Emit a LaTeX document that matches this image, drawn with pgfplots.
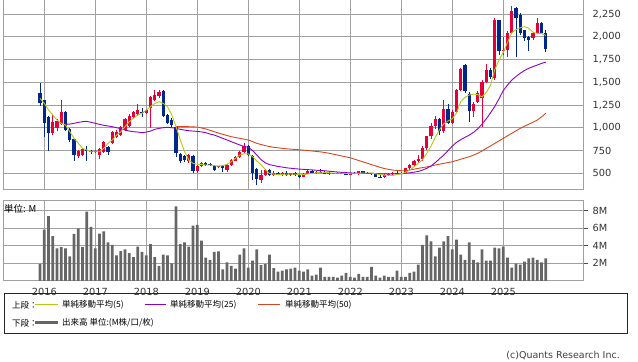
\documentclass[border=0pt]{standalone}
\usepackage{fontspec}
\setmainfont{DejaVu Sans}
\newfontfamily\jp{Noto Sans CJK JP}
\usepackage{pgfplots}
\usepackage{pgfplotstable}
\pgfplotsset{compat=1.18}

\definecolor{upc}{RGB}{230,0,58}
\definecolor{dnc}{RGB}{0,40,140}
\definecolor{ma5}{RGB}{180,200,20}
\definecolor{ma25}{RGB}{140,0,200}
\definecolor{ma50}{RGB}{215,70,30}
\definecolor{volc}{RGB}{102,102,102}
\definecolor{gridc}{RGB}{160,160,160}

\pgfplotstableread{
x o h l c
2 940 1140 920 1065
3 1000 1100 960 1070
4 1040 1305 1030 1175
8 690 760 670 745
9 705 775 690 765
12 730 755 720 745
13 700 780 655 765
14 735 860 725 845
16 830 970 820 955
17 900 975 890 950
18 925 1020 915 1010
19 980 1110 970 1100
20 1015 1150 1010 1130
21 1120 1185 1100 1175
22 1150 1260 1130 1200
24 1160 1210 1150 1195
25 1215 1350 995 1340
26 1300 1415 1290 1365
27 1345 1420 1330 1395
34 630 710 615 700
36 520 590 505 580
37 575 620 565 610
41 565 585 555 575
43 540 600 515 590
44 590 655 585 645
45 640 695 630 683
46 680 745 670 735
47 735 830 725 800
51 430 540 395 480
52 480 550 470 535
54 480 520 470 500
56 485 510 465 505
58 478 505 470 498
61 462 505 458 495
62 495 540 490 530
64 505 525 495 515
67 495 510 485 502
69 494 512 488 505
72 486 508 478 500
74 494 528 485 520
80 458 490 452 480
81 480 500 474 490
82 490 510 484 498
84 494 515 488 506
85 506 560 500 554
86 554 600 540 590
87 590 645 575 635
88 635 700 615 655
89 655 800 640 780
90 780 915 760 905
91 905 1050 880 1020
92 1020 1125 985 1100
94 960 1310 945 1210
96 1055 1200 1040 1170
97 1170 1430 1160 1415
98 1415 1660 1400 1645
101 1180 1280 1120 1265
102 1285 1400 1270 1380
103 1330 1520 1005 1500
104 1505 1700 1490 1630
106 1545 2205 1530 2185
108 1845 2000 1800 1855
109 1855 2060 1780 2045
110 2040 2340 2030 2285
115 1985 2050 1970 2040
116 2040 2205 2030 2155
}\upT

\pgfplotstableread{
x o h l c
-1 1378 1490 1240 1268
0 1300 1310 900 1050
1 1120 1130 740 940
5 1175 1180 960 975
6 990 1000 845 870
7 875 880 635 700
10 760 800 635 750
11 745 760 715 735
15 790 800 700 735
23 1175 1215 1120 1160
28 1405 1410 1120 1135
29 1140 1150 1040 1055
30 1090 1105 995 1030
31 1010 1020 680 720
32 715 720 610 630
33 690 700 620 645
35 690 700 500 520
38 615 625 580 595
39 605 615 580 590
40 580 590 530 540
42 580 590 518 555
48 800 810 690 700
49 690 700 425 500
50 545 555 370 440
53 535 545 465 480
55 500 512 478 485
57 505 525 470 478
59 498 515 475 482
60 482 492 452 462
63 530 535 495 505
65 515 545 500 508
66 508 520 488 495
68 502 508 488 494
70 505 515 492 498
71 498 505 478 486
73 500 510 488 494
75 520 525 498 505
76 505 512 494 500
77 500 505 486 490
78 490 494 455 462
79 462 476 450 458
83 498 522 488 494
93 1100 1110 920 960
95 1210 1260 1040 1055
99 1690 1700 1380 1400
100 1375 1390 1065 1180
105 1640 1660 1540 1560
107 2180 2190 1800 1840
111 2320 2330 1780 2210
112 2240 2260 2020 2040
113 2070 2080 1950 1985
114 2000 2010 1840 1965
117 2155 2160 2030 2040
118 2040 2070 1835 1865
}\dnT

\pgfplotstableread{
x v
-1 1.9
0 5.85
1 7.4
2 5.1
3 3.7
4 3.85
5 3.7
6 2.8
7 5.35
8 6.0
9 3.85
10 7.9
11 6.15
12 3.7
13 5.4
14 5.65
15 4.4
16 4.1
17 2.9
18 3.4
19 3.6
20 3.15
21 2.7
22 3.9
23 3.3
24 2.9
25 4.2
26 2.7
27 1.7
28 3.0
29 2.9
30 2.0
31 8.5
32 4.2
33 4.4
34 3.9
35 6.3
36 6.4
37 4.6
38 2.65
39 2.4
40 3.3
41 3.35
42 1.3
43 2.1
44 1.7
45 1.4
46 3.0
47 3.7
48 1.5
49 2.3
50 3.6
51 1.8
52 1.9
53 3.0
54 1.45
55 1.05
56 1.15
57 1.3
58 1.4
59 1.5
60 1.15
61 1.05
62 1.3
63 0.6
64 0.7
65 1.5
66 0.45
67 0.45
68 0.45
69 0.35
70 0.6
71 0.9
72 0.45
73 0.35
74 0.8
75 0.45
76 0.45
77 1.6
78 0.6
79 0.35
80 0.6
81 0.45
82 0.45
83 1.15
84 0.45
85 0.45
86 0.9
87 1.05
88 1.85
89 4.1
90 5.2
91 4.5
92 2.8
93 3.8
94 4.5
95 5.1
96 3.6
97 4.7
98 3.0
99 2.4
100 4.4
101 2.4
102 2.1
103 3.6
104 2.3
105 2.3
106 3.8
107 3.7
108 3.9
109 2.65
110 1.5
111 1.95
112 1.85
113 2.2
114 2.55
115 2.65
116 2.4
117 2.1
118 2.55
}\volT

\pgfplotsset{
  panel/.style={
    scale only axis, width=580bp,
    xmin=-9.718, xmax=126.75,
    axis line style={draw=gridc, line width=1bp},
    grid=major, major grid style={draw=gridc, line width=1bp},
    xtick={0,12,...,108},
    tick label style={font=\fontsize{9.8bp}{11bp}\selectfont, text=black!80},
    /pgf/number format/assume math mode=true,
    clip=true,
  },
  wick/.style={draw=none, mark=none, forget plot,
    error bars/.cd, y dir=plus, y explicit, error mark=none,
    error bar style={draw=#1, solid, line width=0.9bp}},
  body/.style={draw=none, mark=none, forget plot,
    error bars/.cd, y dir=plus, y explicit, error mark=none,
    error bar style={draw=#1, solid, line width=3.2bp}},
}

\begin{document}
\begin{tikzpicture}
\useasboundingbox (0,0) rectangle (638bp,362bp);
\clip (0,0) rectangle (638bp,362bp);

% ---------- price panel ----------
\begin{axis}[panel, at={(3bp,172bp)}, anchor=south west, height=190bp,
  ymin=316, ymax=2405, ytick={500,750,...,2250},
  xticklabels={}, xtick style={draw=none},
  ytick pos=right, yticklabel pos=right, major tick length=0pt,
  yticklabel style={anchor=west, inner sep=0pt, xshift=9.5bp},
  /pgf/number format/.cd, 1000 sep={,}]
\addplot[wick=upc] table[x=x, y=l, y error expr=\thisrow{h}-\thisrow{l}] {\upT};
\addplot[wick=dnc] table[x=x, y=l, y error expr=\thisrow{h}-\thisrow{l}] {\dnT};
\addplot[body=upc] table[x=x, y=o, y error expr=\thisrow{c}-\thisrow{o}] {\upT};
\addplot[body=dnc] table[x=x, y=c, y error expr=\thisrow{o}-\thisrow{c}] {\dnT};

% 50-month MA
\addplot[ma50, line width=0.9bp, mark=none] coordinates {
(31,1012)(32,1012)(33,1012)(34,1012)(35,1010)(36,1008)(37,998)(38,987)(39,972)(40,957)
(41,942)(42,928)(43,915)(44,902)(45,893)(46,884)(47,875)(48,866)(49,848)(50,829)
(51,816)(52,803)(53,794)(54,785)(55,780)(56,774)(57,769)(58,765)(59,762)(60,758)
(61,754)(62,750)(63,745)(64,740)(65,735)(66,728)(67,720)(68,710)(69,700)(70,690)
(71,680)(72,670)(73,655)(74,640)(75,625)(76,610)(77,595)(78,580)(79,565)(80,552)
(81,543)(82,535)(83,530)(84,528)(85,528)(86,535)(87,545)(88,554)(89,562)(90,570)
(91,580)(92,591)(93,600)(94,609)(95,618)(96,627)(97,640)(98,655)(99,668)(100,682)
(101,700)(102,720)(103,745)(104,774)(105,800)(106,828)(107,856)(108,884)(109,912)(110,940)
(111,967)(112,994)(113,1018)(114,1040)(115,1062)(116,1085)(117,1120)(118,1159)};
% 25-month MA
\addplot[ma25, line width=0.9bp, mark=none] coordinates {
(5,1041)(6,1041)(7,1049)(8,1060)(9,1067)(10,1071)(11,1060)(12,1049)(13,1038)(14,1027)
(15,1020)(16,1012)(17,1001)(18,990)(19,975)(20,964)(21,957)(22,953)(23,946)(24,953)
(25,964)(26,983)(27,994)(28,1001)(29,1005)(30,1001)(31,994)(32,983)(33,975)(34,968)
(35,964)(36,960)(37,955)(38,946)(39,931)(40,920)(41,902)(42,884)(43,866)(44,847)
(45,829)(46,811)(47,795)(48,785)(49,750)(50,700)(51,650)(52,615)(53,595)(54,585)
(55,575)(56,568)(57,560)(58,555)(59,550)(60,546)(61,543)(62,540)(63,537)(64,533)
(65,530)(66,528)(67,522)(68,518)(69,514)(70,510)(71,507)(72,504)(73,502)(74,500)
(75,500)(76,500)(77,499)(78,497)(79,495)(80,493)(81,492)(82,492)(83,493)(84,495)
(85,500)(86,505)(87,512)(88,520)(89,535)(90,555)(91,580)(92,617)(93,660)(94,701)
(95,750)(96,800)(97,840)(98,870)(99,895)(100,920)(101,950)(102,990)(103,1040)(104,1100)
(105,1165)(106,1235)(107,1320)(108,1410)(109,1470)(110,1525)(111,1565)(112,1600)(113,1630)(114,1655)
(115,1673)(116,1690)(117,1708)(118,1722)};
% 5-month MA
\addplot[ma5, line width=0.9bp, mark=none] coordinates {
(-1,1323)(0,1268)(1,1195)(2,1140)(3,1085)(4,1049)(5,1030)(6,957)(7,884)(8,829)
(9,774)(10,756)(11,737)(12,737)(13,737)(14,774)(15,829)(16,866)(17,920)(18,957)
(19,1012)(20,1067)(21,1104)(22,1140)(23,1159)(24,1195)(25,1232)(26,1268)(27,1287)(28,1268)
(29,1232)(30,1140)(31,1012)(32,866)(33,737)(34,646)(35,609)(36,598)(37,598)(38,591)
(39,591)(40,583)(41,580)(42,583)(43,598)(44,627)(45,664)(46,700)(47,715)(48,713)
(49,684)(50,635)(51,594)(52,541)(53,498)(54,490)(55,488)(56,488)(57,490)(58,492)
(59,490)(60,482)(61,485)(62,492)(63,497)(64,505)(65,512)(66,510)(67,505)(68,500)
(69,500)(70,500)(71,497)(72,495)(73,495)(74,500)(75,503)(76,503)(77,503)(78,494)
(79,485)(80,480)(81,478)(82,477)(83,485)(84,495)(85,510)(86,535)(87,570)(88,610)
(89,650)(90,720)(91,800)(92,895)(93,980)(94,1045)(95,1075)(96,1100)(97,1165)(98,1290)
(99,1335)(100,1360)(101,1370)(102,1365)(103,1340)(104,1390)(105,1470)(106,1640)(107,1745)(108,1830)
(109,1940)(110,2045)(111,2080)(112,2100)(113,2112)(114,2095)(115,2050)(116,2038)(117,2038)(118,2015)};
\end{axis}

% ---------- volume panel ----------
\begin{axis}[panel, at={(3bp,81.2bp)}, anchor=south west, height=79.8bp,
  ymin=0, ymax=9.12, ytick={2,4,6,8},
  xticklabels={2016,2017,2018,2019,2020,2021,2022,2023,2024,2025},
  xtick pos=bottom, xtick style={draw=none},
  xticklabel style={yshift=1.5bp},
  ytick pos=right, yticklabel pos=right,
  ytick style={draw=black!70, line width=0.8bp},
  tick align=outside, major tick length=5bp,
  yticklabel style={anchor=west, inner sep=0pt, xshift=4.5bp},
  yticklabel={\pgfmathprintnumber{\tick}M}]
\addplot[ybar, bar width=2.7bp, fill=volc, draw=none] table[x=x, y=v] {\volT};
\end{axis}

\node[anchor=west, inner sep=0pt, font=\jp\fontsize{9.5bp}{10bp}\selectfont] at (4bp,153bp) {単位: M};

% ---------- legend ----------
\draw[black!85, line width=0.9bp] (4.5bp,28.5bp) rectangle (627bp,68.5bp);
\begin{scope}[every node/.style={anchor=west, inner sep=0pt, font=\jp\fontsize{8.5bp}{10bp}\selectfont}]
\node at (12bp,57bp) {上段：};
\draw[ma5, line width=1bp] (35bp,57bp) -- (58bp,57bp);
\node at (62bp,57bp) {単純移動平均(5)};
\draw[ma25, line width=1bp] (145bp,57bp) -- (166bp,57bp);
\node at (170bp,57bp) {単純移動平均(25)};
\draw[ma50, line width=1bp] (258bp,57bp) -- (280bp,57bp);
\node at (285bp,57bp) {単純移動平均(50)};
\node at (12bp,39bp) {下段：};
\draw[volc, line width=3bp] (35bp,39bp) -- (58bp,39bp);
\node at (62bp,39bp) {出来高 単位:(M株/口/枚)};
\end{scope}

\node[anchor=east, inner sep=0pt, font=\fontsize{9.5bp}{10bp}\selectfont, text=black!75] at (620bp,6bp) {(c)Quants Research Inc.};
\end{tikzpicture}
\end{document}
